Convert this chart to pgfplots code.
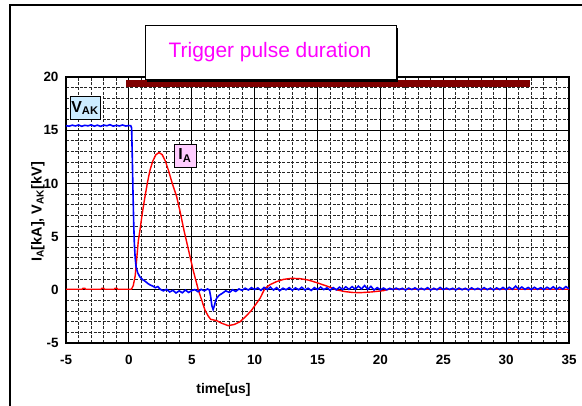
\documentclass[border=0pt]{standalone}
\usepackage{pgfplots}
\pgfplotsset{compat=1.18}
\usepackage{fontspec}
\setmainfont{Liberation Sans}
\definecolor{vblue}{RGB}{0,0,255}
\definecolor{ired}{RGB}{255,0,0}
\definecolor{trigmag}{RGB}{255,0,255}
\definecolor{trigbar}{RGB}{128,0,0}
\definecolor{vakfill}{RGB}{204,236,255}
\definecolor{iafill}{RGB}{255,204,255}

\begin{document}
\begin{tikzpicture}[x=1bp,y=1bp]
\useasboundingbox (0,0) rectangle (582,405);

% outer frame (left and top edges only are visible)
\draw[line width=1.6bp] (10,-5) -- (10,400) -- (590,400);

\begin{axis}[
  at={(66bp,62bp)},
  anchor=south west,
  width=503bp,
  height=266bp,
  scale only axis,
  xmin=-5, xmax=35,
  ymin=-5, ymax=20,
  xtick={-5,0,...,35},
  ytick={-5,0,...,20},
  xticklabels={-5,0,5,10,15,20,25,30,35},
  yticklabels={-5,0,5,10,15,20},
  minor x tick num=4,
  minor y tick num=4,
  grid=both,
  major grid style={black, line width=1bp},
  minor grid style={black!85, line width=0.85bp, dash pattern=on 3bp off 1.6bp},
  tick style={draw=none},
  axis line style={black, line width=1.1bp},
  ticklabel style={font=\bfseries\fontsize{13.5}{15}\selectfont},
  xticklabel style={yshift=-9bp},
  yticklabel style={xshift=-4bp},
  clip=false
]

% trigger pulse duration bar
\addplot[trigbar, line width=7bp, line cap=butt] coordinates {(-0.2,19.4) (31.9,19.4)};

% anode current I_A
\addplot[ired, line width=1.4bp] coordinates {
(-5,0.05) (-3.7,0.05) (-3.65,0.15) (-3.5,0.15) (-3.45,0.05) (-2.2,0.05) (-2.15,0.15) (-2.0,0.15)
(-1.95,0.05) (-1.15,0.05) (-1.1,0.15) (-0.95,0.15) (-0.9,0.05) (0.2,0.05)
(0.35,0.4) (0.5,1.3) (0.6,2.6) (0.75,4.6) (0.88,5.6) (1.08,7.3) (1.28,8.75)
(1.48,10.1) (1.68,11.25) (1.9,12.1) (2.15,12.7) (2.4,12.9) (2.65,12.7) (2.9,12.1)
(3.14,11.25) (3.45,10.0) (3.8,8.75) (4.1,7.2) (4.38,5.6) (4.75,3.7) (5.1,1.9)
(5.52,0.0) (5.8,-1.0) (6.05,-1.9) (6.3,-2.45) (6.5,-2.77) (6.98,-2.9) (7.4,-3.15)
(7.9,-3.37) (8.4,-3.25) (8.84,-3.0) (9.3,-2.5) (9.77,-1.9) (10.1,-1.35) (10.43,-0.8)
(10.82,0.14) (11.25,0.5) (11.75,0.77) (12.3,0.98) (12.94,1.08) (13.6,1.05)
(14.27,0.92) (15.0,0.65) (15.86,0.3) (16.5,0.0) (17.19,-0.17) (17.8,-0.25)
(18.38,-0.27) (19.3,-0.2) (20.23,-0.08) (20.76,0.08) (22,0.05) (35,0.05)
};

% anode-cathode voltage V_AK
\addplot[vblue, line width=1.6bp] coordinates {
(-5,15.42) (-4.75,15.38) (-4.5,15.47) (-4.25,15.40) (-4,15.49) (-3.75,15.37)
(-3.5,15.46) (-3.25,15.41) (-3,15.50) (-2.75,15.38) (-2.5,15.47) (-2.25,15.36)
(-2,15.48) (-1.75,15.42) (-1.5,15.52) (-1.25,15.38) (-1,15.46) (-0.75,15.40)
(-0.5,15.49) (-0.25,15.39) (0,15.44) (0.15,15.42) (0.22,15.2) (0.28,12.0)
(0.33,9.0) (0.38,6.5) (0.43,4.5) (0.5,3.0) (0.57,2.2) (0.7,1.6) (0.88,1.2)
(1.1,0.95) (1.3,0.8) (1.5,0.6) (1.7,0.45) (1.9,0.35) (2.1,0.2) (2.3,0.3)
(2.5,0.05) (2.75,-0.1) (3,0.05) (3.25,-0.2) (3.5,-0.05) (3.75,-0.3) (4,-0.1)
(4.25,-0.28) (4.5,-0.02) (4.75,-0.25) (5,-0.08) (5.25,0.02) (5.5,-0.18)
(5.75,0.05) (6,-0.1) (6.25,0.08) (6.4,0.0) (6.5,-0.6) (6.6,-1.5) (6.7,-1.85)
(6.8,-1.5) (6.9,-1.0) (7.0,-0.75) (7.2,-0.5) (7.4,-0.35) (7.7,-0.1) (8,-0.25)
(8.25,0.0) (8.5,-0.15) (8.75,0.08) (9,-0.05) (9.25,0.15) (9.5,-0.02) (9.75,0.2)
(10,0.02) (10.25,0.18) (10.5,-0.05) (10.75,0.22) (11,0.02) (11.25,0.25)
(11.5,-0.02) (11.75,0.2) (12,-0.08) (12.25,0.15) (12.5,0.0) (12.75,0.2)
(13,-0.04) (13.25,0.18) (13.5,0.0) (13.75,0.24) (14,-0.02) (14.25,0.15)
(14.5,-0.06) (14.75,0.2) (15,0.02) (15.25,0.25) (15.5,0.02) (15.75,0.18)
(16,-0.04) (16.25,0.2) (16.5,0.0) (16.75,0.25) (17,0.02) (17.25,0.28)
(17.5,0.04) (17.75,0.3) (18,0.06) (18.25,0.35) (18.5,0.08) (18.75,0.4)
(19,0.04) (19.25,0.32) (19.5,-0.02) (19.75,0.2) (20,0.0) (20.25,0.16)
(20.5,0.0) (20.75,0.14) (21,0.02) (21.25,0.16) (21.5,0.02) (21.75,0.14)
(22,-0.02) (22.25,0.16) (22.5,0.02) (22.75,0.18) (23,0.0) (23.25,0.14)
(23.5,0.01) (23.75,0.2) (24,-0.02) (24.25,0.14) (24.5,0.0) (24.75,0.22)
(25,0.01) (25.25,0.16) (25.5,0.02) (25.75,0.14) (26,-0.01) (26.25,0.16)
(26.5,0.01) (26.75,0.14) (27,-0.02) (27.25,0.18) (27.5,0.02) (27.75,0.14)
(28,0.0) (28.25,0.2) (28.5,0.01) (28.75,0.16) (29,-0.01) (29.25,0.18)
(29.5,0.02) (29.75,0.22) (30,0.01) (30.25,0.24) (30.5,0.04) (30.75,0.35)
(31,0.06) (31.25,0.26) (31.5,0.04) (31.75,0.22) (32,0.02) (32.25,0.24)
(32.5,0.04) (32.75,0.2) (33,0.02) (33.25,0.24) (33.5,0.06) (33.75,0.28)
(34,0.04) (34.25,0.24) (34.5,0.06) (34.75,0.3) (35,0.1)
};

\node[draw=black, fill=vakfill, line width=0.7bp, inner sep=1bp,
  minimum width=30bp, minimum height=23bp,
  font=\bfseries\fontsize{16}{18}\selectfont]
  at (axis cs:-3.49,17.09) {V\textsubscript{AK}};
\node[draw=black, fill=iafill, line width=0.7bp, inner sep=1bp,
  minimum width=22bp, minimum height=23bp,
  font=\bfseries\fontsize{16}{18}\selectfont]
  at (axis cs:4.46,12.62) {I\textsubscript{A}};
\end{axis}

% trigger pulse label box
\fill[black] (147,323.5) rectangle (398,377);
\draw[fill=white, line width=1bp] (145,325.5) rectangle (396,379);
\node[anchor=base, text=trigmag, font=\fontsize{21}{25}\selectfont] at (270,348) {Trigger pulse duration};

% axis titles
\node[anchor=base, font=\bfseries\fontsize{14}{16}\selectfont] at (223.5,12) {time[us]};
\node[anchor=base, rotate=90, font=\bfseries\fontsize{14.5}{16}\selectfont] at (41.5,193) {I\textsubscript{A}[kA], V\textsubscript{AK}[kV]};
\end{tikzpicture}
\end{document}
